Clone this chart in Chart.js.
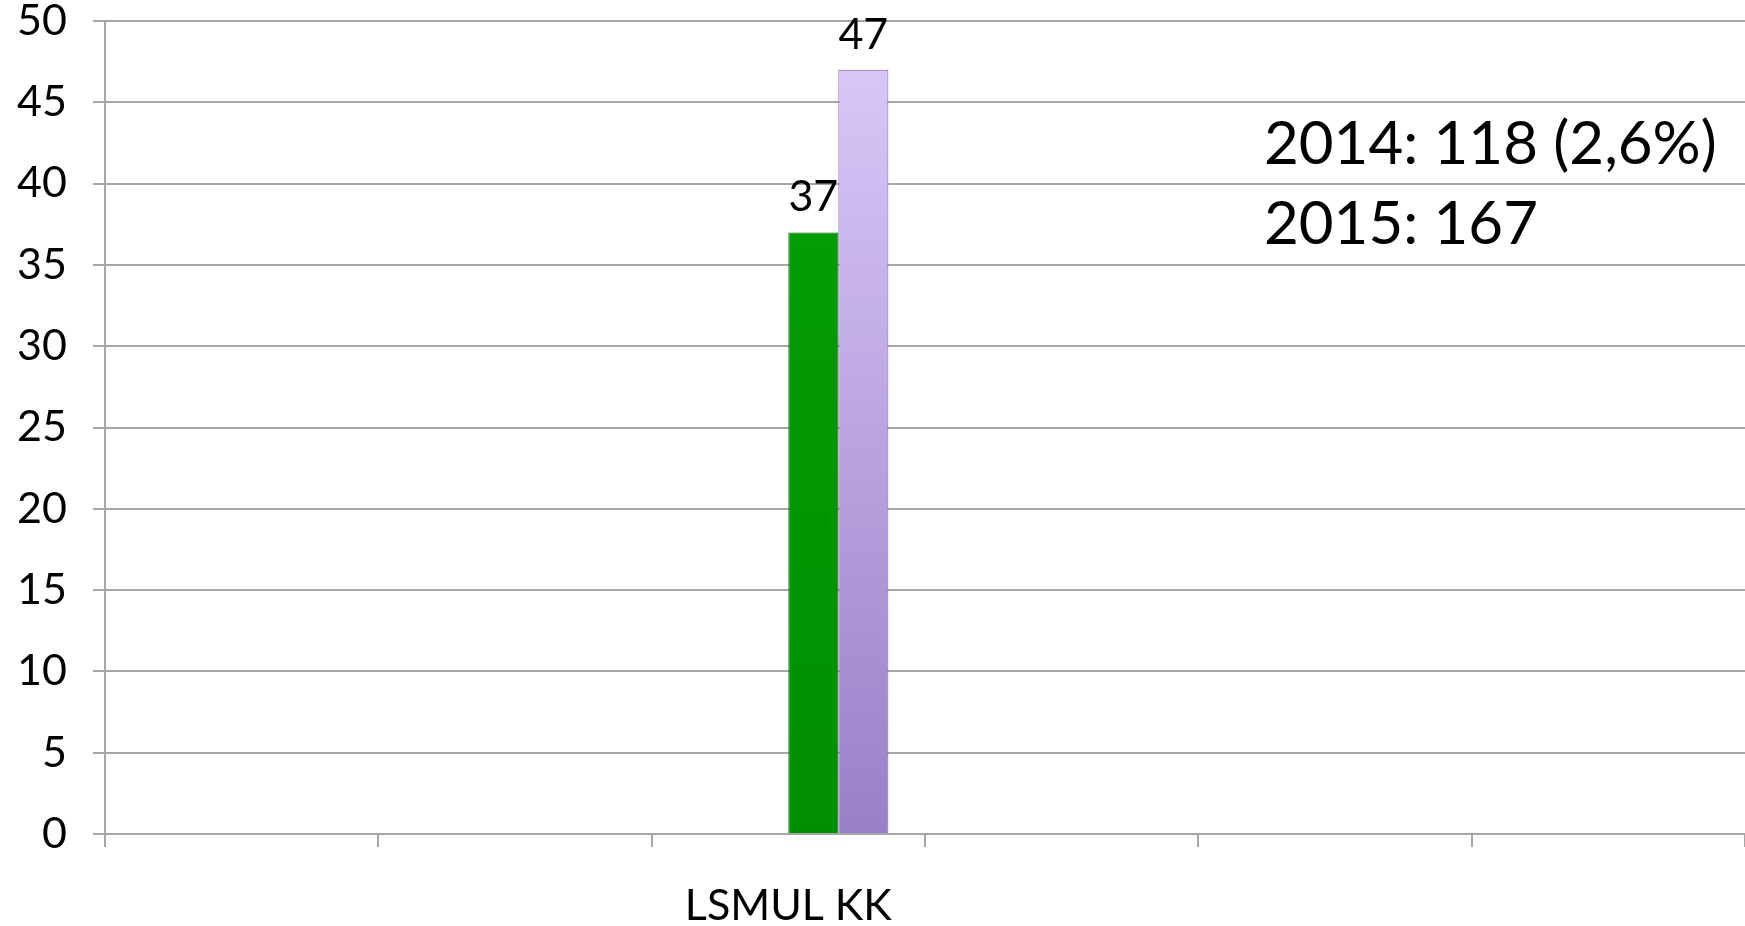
<!DOCTYPE html>
<html>
<head>
<meta charset="utf-8">
<script src="https://cdn.jsdelivr.net/npm/chart.js@4/dist/chart.umd.min.js"></script>
<style>
  html, body { margin: 0; padding: 0; background: #ffffff; }
  #wrap { position: relative; width: 1745px; height: 926px; }
  #note { position: absolute; left: 1264px; top: 101px; font-family: Lato, "Open Sans", sans-serif; font-size: 60px; line-height: 80px; color: #000; white-space: nowrap; }
</style>
</head>
<body>
<div id="wrap">
  <canvas id="c" width="1745" height="926"></canvas>
  <div id="note"><div id="note2014"></div><div id="note2015"></div></div>
</div>
<script>
// ---- data ----
const categories = ["", "", "LSMUL KK", "", "", ""];
const emptySeriesA = [null, null, null, null, null, null];
const emptySeriesB = [null, null, null, null, null, null];
const values2014 = [null, null, 37, null, null, null];
const values2015 = [null, null, 47, null, null, null];
const yTicks = [0, 5, 10, 15, 20, 25, 30, 35, 40, 45, 50];
const noteLines = ["2014: 118 (2,6%)", "2015: 167"];

document.getElementById('note2014').textContent = noteLines[0];
document.getElementById('note2015').textContent = noteLines[1];

const FONT = 'Lato, "Open Sans", sans-serif';

function vGrad(ctx, top, bottom) {
  const area = ctx.chart.chartArea;
  if (!area) return top;
  const g = ctx.chart.ctx.createLinearGradient(0, area.top, 0, area.bottom);
  g.addColorStop(0, top);
  g.addColorStop(1, bottom);
  return g;
}

const valueLabels = {
  id: 'valueLabels',
  afterDatasetsDraw(chart) {
    const ctx = chart.ctx;
    ctx.save();
    ctx.font = '43px ' + FONT;
    ctx.fillStyle = '#000';
    ctx.textAlign = 'center';
    ctx.textBaseline = 'alphabetic';
    chart.data.datasets.forEach((ds, i) => {
      const meta = chart.getDatasetMeta(i);
      meta.data.forEach((bar, j) => {
        const v = ds.data[j];
        if (v === null || v === undefined) return;
        ctx.fillText(String(v), bar.x, bar.y - 21);
      });
    });
    ctx.restore();
  }
};

new Chart(document.getElementById('c'), {
  type: 'bar',
  data: {
    labels: categories,
    datasets: [
      { label: 'A', data: emptySeriesA, backgroundColor: '#4f81bd' },
      { label: 'B', data: emptySeriesB, backgroundColor: '#c0504d' },
      { label: '2014', data: values2014,
        backgroundColor: ctx => vGrad(ctx, '#06a006', '#008f00'),
        borderColor: '#006a00', borderWidth: 1 },
      { label: '2015', data: values2015,
        backgroundColor: ctx => vGrad(ctx, '#dccbfa', '#9a7fc7'),
        borderColor: '#7a5ea2', borderWidth: 1 }
    ]
  },
  options: {
    responsive: false,
    animation: false,
    layout: { padding: 0 },
    categoryPercentage: 0.732,
    barPercentage: 1.0,
    plugins: { legend: { display: false }, tooltip: { enabled: false } },
    scales: {
      x: {
        offset: true,
        grid: { offset: true, drawOnChartArea: false, drawTicks: true, tickLength: 13, color: '#a6a6a6', lineWidth: 2 },
        border: { display: false },
        ticks: { color: '#000', font: { family: FONT, size: 43 }, padding: 33, maxRotation: 0, autoSkip: false },
        afterFit(scale) { scale.height = 92; }
      },
      y: {
        min: 0, max: 50,
        afterBuildTicks(scale) { scale.ticks = yTicks.map(v => ({ value: v })); },
        grid: { color: '#a6a6a6', lineWidth: 2, tickLength: 12 },
        border: { color: '#a6a6a6', width: 2 },
        ticks: { color: '#000', font: { family: FONT, size: 43, lineHeight: 1.0 }, padding: 26 },
        afterFit(scale) { scale.width = 105; scale.paddingTop = 21; scale.paddingBottom = 0; }
      }
    }
  },
  plugins: [valueLabels]
});
</script>
</body>
</html>
